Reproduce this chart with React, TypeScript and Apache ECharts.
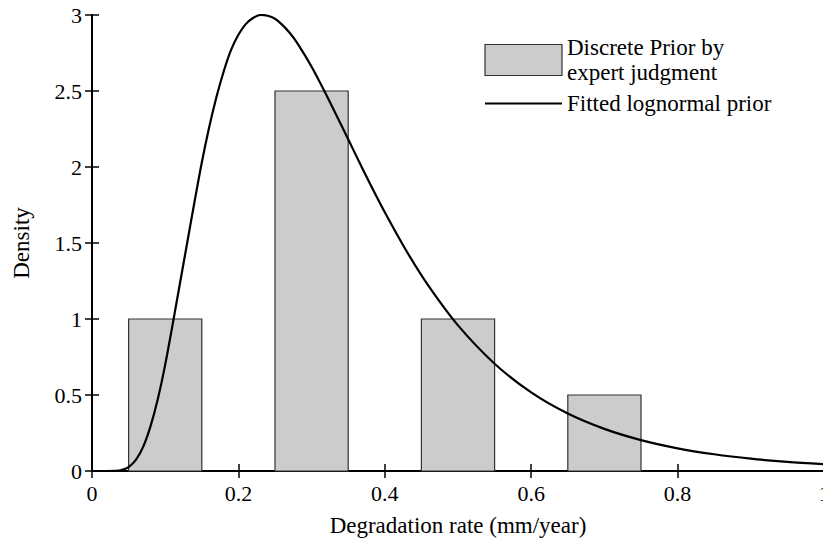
import React, { useEffect, useRef } from "react";
import * as echarts from "echarts";

// Discrete prior (histogram) by expert judgment
const binStart = [0.05, 0.25, 0.45, 0.65];
const binEnd = [0.15, 0.35, 0.55, 0.75];
const binDensity = [1, 2.5, 1, 0.5];

// Fitted lognormal prior
const curveX = [0, 0.02, 0.03, 0.04, 0.05, 0.06, 0.07, 0.08, 0.09, 0.1, 0.11, 0.12, 0.13, 0.14, 0.15, 0.16, 0.17, 0.18, 0.19, 0.2, 0.21, 0.22, 0.23, 0.24, 0.25, 0.26, 0.27, 0.28, 0.3, 0.32, 0.34, 0.36, 0.38, 0.4, 0.43, 0.46, 0.5, 0.55, 0.6, 0.65, 0.7, 0.75, 0.8, 0.85, 0.9, 0.95, 1.0];
const curveY = [0, 0, 0.001, 0.006, 0.026, 0.073, 0.16, 0.295, 0.475, 0.7, 0.96, 1.23, 1.5, 1.77, 2.03, 2.26, 2.46, 2.63, 2.77, 2.87, 2.94, 2.98, 3.0, 2.995, 2.975, 2.935, 2.883, 2.818, 2.66, 2.476, 2.281, 2.083, 1.888, 1.702, 1.444, 1.216, 0.958, 0.706, 0.517, 0.378, 0.277, 0.203, 0.149, 0.11, 0.081, 0.06, 0.045];

const xTicks = { min: 0, max: 1, interval: 0.2 };
const yTicks = { min: 0, max: 3, interval: 0.5 };

const histName = "Discrete Prior by\nexpert judgment";
const curveName = "Fitted lognormal prior";

const FONT = "Liberation Serif";

export default function App() {
  const ref = useRef<HTMLDivElement>(null);
  useEffect(() => {
    if (!ref.current) return;
    const chart = echarts.init(ref.current, null, { renderer: "svg" });
    const axisLine = { show: true, lineStyle: { color: "#000", width: 2 } };
    const axisTick = { show: true, inside: true, length: 7, lineStyle: { color: "#000", width: 1.5 } };
    const labelStyle = { fontFamily: FONT, fontSize: 22, color: "#000" };
    const nameStyle = { fontFamily: FONT, fontSize: 23, color: "#000" };
    chart.setOption({
      animation: false,
      backgroundColor: "#fff",
      grid: {
        left: 92,
        top: 15,
        width: 732,
        height: 456,
        containLabel: false,
        outerBoundsMode: "none",
      },
      legend: {
        orient: "vertical",
        left: 484,
        top: 35,
        padding: 0,
        itemWidth: 77,
        itemHeight: 31,
        itemGap: 6,
        selectedMode: false,
        textStyle: { fontFamily: FONT, fontSize: 23, color: "#000", lineHeight: 25 },
        data: [
          { name: histName, icon: "rect", itemStyle: { color: "#cccccc", borderColor: "#333", borderWidth: 1.2 } },
          { name: curveName, itemStyle: { color: "rgba(0,0,0,0)", borderWidth: 0, opacity: 0 } },
        ],
      },
      xAxis: [
        {
          type: "value",
          position: "bottom",
          ...xTicks,
          axisLine,
          axisTick,
          splitLine: { show: false },
          axisLabel: { ...labelStyle, margin: 11 },
          name: "Degradation rate (mm/year)",
          nameLocation: "middle",
          nameGap: 43,
          nameTextStyle: nameStyle,
        },
        {
          type: "value",
          position: "top",
          ...xTicks,
          axisLine,
          axisTick,
          splitLine: { show: false },
          axisLabel: { show: false },
        },
      ],
      yAxis: [
        {
          type: "value",
          position: "left",
          ...yTicks,
          axisLine,
          axisTick,
          splitLine: { show: false },
          axisLabel: { ...labelStyle, margin: 10, padding: [6, 0, 0, 0] },
          name: "Density",
          nameLocation: "middle",
          nameGap: 59,
          nameTextStyle: nameStyle,
        },
        {
          type: "value",
          position: "right",
          ...yTicks,
          axisLine,
          axisTick,
          splitLine: { show: false },
          axisLabel: { show: false },
        },
      ],
      series: [
        {
          name: histName,
          type: "custom",
          xAxisIndex: 0,
          yAxisIndex: 0,
          encode: { x: [0, 1], y: 2 },
          data: binStart.map((s, i) => [s, binEnd[i], binDensity[i]]),
          itemStyle: { color: "#cccccc", borderColor: "#333", borderWidth: 1.2 },
          renderItem: (params: any, api: any) => {
            const a = api.coord([api.value(0), 0]);
            const b = api.coord([api.value(1), api.value(2)]);
            return {
              type: "rect",
              shape: { x: a[0], y: b[1], width: b[0] - a[0], height: a[1] - b[1] },
              style: { fill: "#cccccc", stroke: "#333", lineWidth: 1.2 },
            };
          },
          z: 1,
        },
        {
          name: curveName,
          type: "line",
          xAxisIndex: 0,
          yAxisIndex: 0,
          data: curveX.map((x, i) => [x, curveY[i]]),
          symbol: "none",
          showSymbol: false,
          smooth: 0.3,
          lineStyle: { color: "#000", width: 2.2 },
          itemStyle: { color: "#000" },
          z: 3,
        },
      ],
    });
    return () => chart.dispose();
  }, []);
  return (
    <div
      ref={ref}
      style={{ position: "fixed", left: 0, top: 0, width: 823, height: 540, background: "#fff" }}
    />
  );
}
